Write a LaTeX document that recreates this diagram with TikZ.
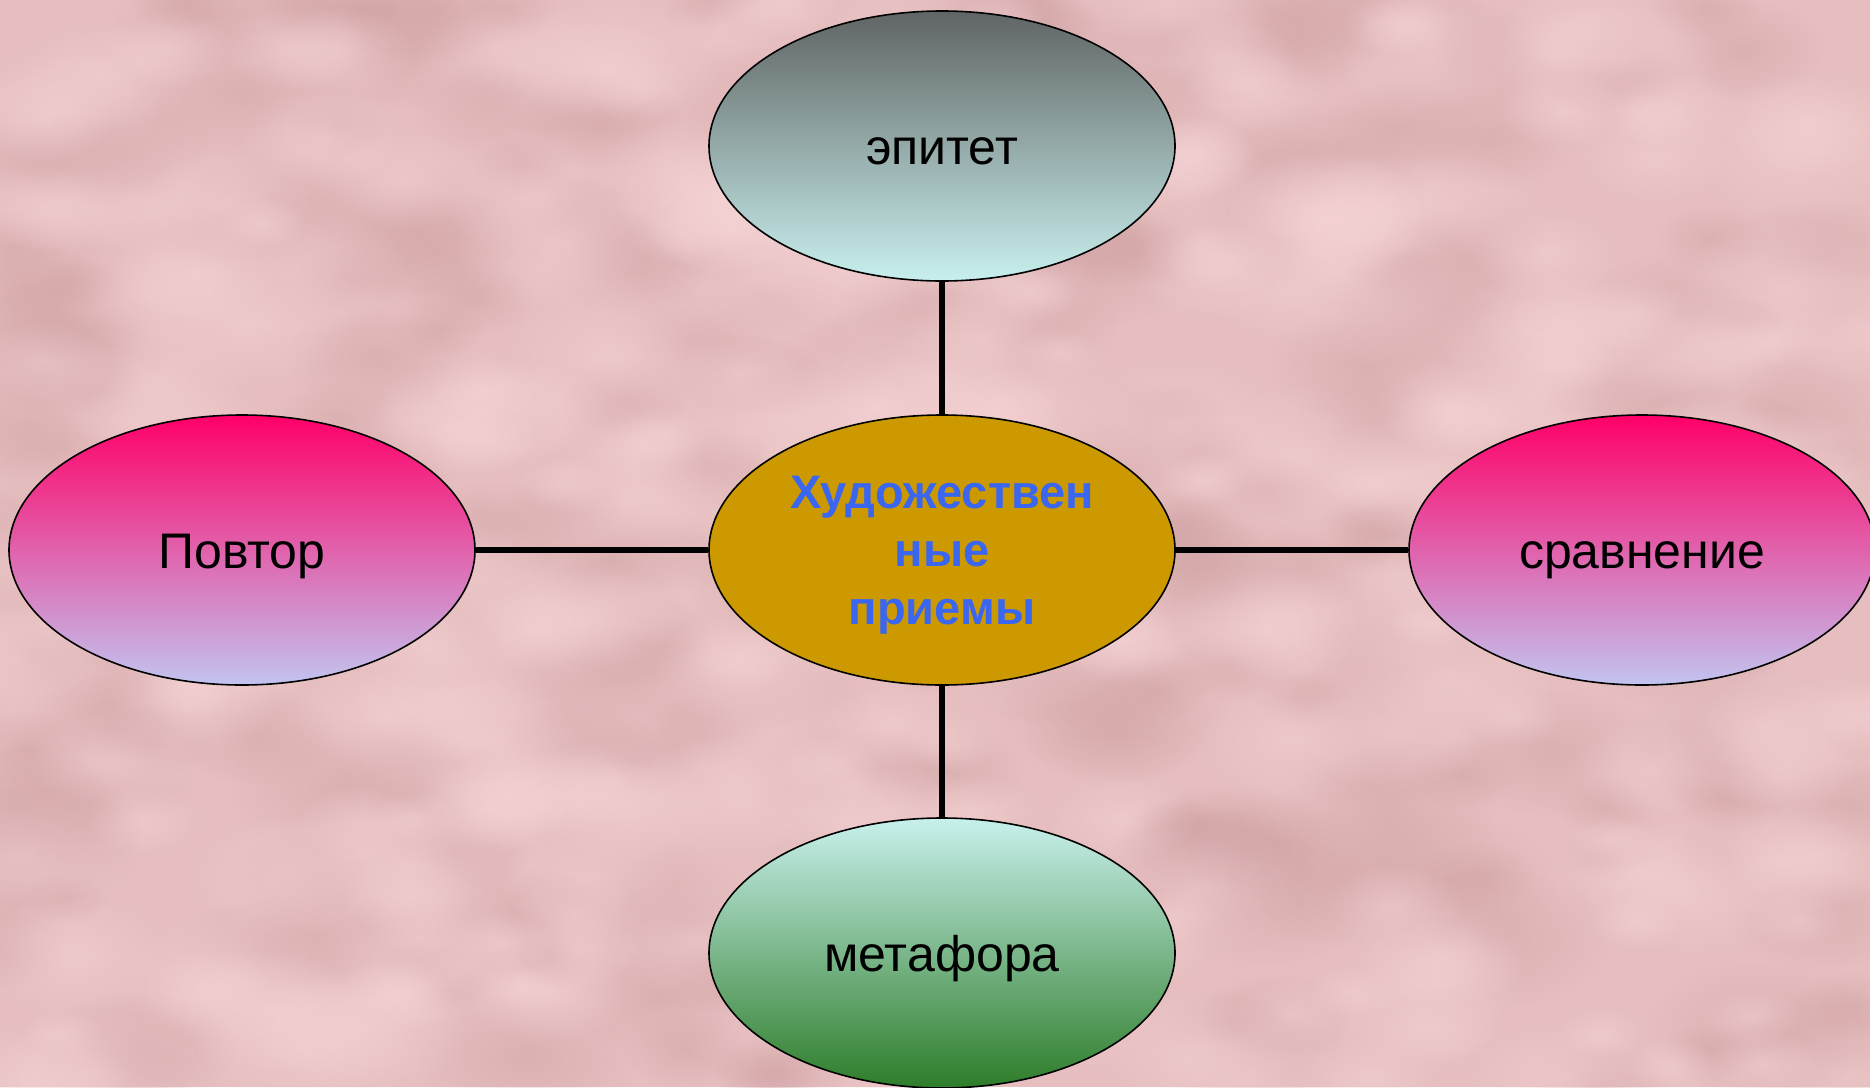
\documentclass[tikz,border=0pt]{standalone}
\usepackage{fontspec}
\setmainfont{Liberation Sans}
\usetikzlibrary{shapes.geometric,fadings}
\definecolor{bgpink}{HTML}{E6BEBF}
\definecolor{bgdark}{HTML}{CFA0A2}
\definecolor{bglight}{HTML}{F6D4D6}
\definecolor{ctrfill}{HTML}{CC9900}
\definecolor{ctrtext}{HTML}{3A66F0}
\definecolor{grayTop}{HTML}{606464}
\definecolor{grayBot}{HTML}{C8F0EE}
\definecolor{pinkTop}{HTML}{FF0068}
\definecolor{pinkBot}{HTML}{C2C4F0}
\definecolor{greenTop}{HTML}{C8F0EC}
\definecolor{greenBot}{HTML}{2E7D2A}
\tikzfading[name=softblob, inner color=transparent!0, outer color=transparent!100]
\tikzset{
  oval/.style={ellipse, draw=black, line width=1.6pt, minimum width=466pt, minimum height=270pt, inner sep=0pt,
    font=\fontsize{50}{58}\selectfont, text=black, text height=36pt, text depth=0pt},
  grayoval/.style={oval, top color=grayTop, bottom color=grayBot},
  pinkoval/.style={oval, top color=pinkTop, bottom color=pinkBot},
  greenoval/.style={oval, top color=greenTop, bottom color=greenBot},
  link/.style={line width=5.5pt, black}
}
\begin{document}
\begin{tikzpicture}[x=1pt,y=-1pt]
\useasboundingbox (0,0) rectangle (1870,1087);
\fill[bgpink] (0,0) rectangle (1870,1087);
\begin{scope}
\clip (0,0) rectangle (1870,1087);
\pgfmathsetseed{11}
\foreach \i in {1,...,260}{
  \pgfmathsetmacro\xx{rnd*1870}
  \pgfmathsetmacro\yy{rnd*1087}
  \pgfmathsetmacro\rr{40+rnd*80}
  \fill[bgdark, fill opacity=0.45, path fading=softblob] (\xx,\yy) ellipse ({\rr} and {\rr*0.6});
}
\foreach \i in {1,...,260}{
  \pgfmathsetmacro\xx{rnd*1870}
  \pgfmathsetmacro\yy{rnd*1087}
  \pgfmathsetmacro\rr{40+rnd*80}
  \fill[bglight, fill opacity=0.5, path fading=softblob] (\xx,\yy) ellipse ({\rr} and {\rr*0.6});
}
\end{scope}
\node[oval, fill=ctrfill, text=ctrtext, font=\bfseries\fontsize{47}{58}\selectfont, align=center, text height=149pt, text depth=0pt] (center) at (942,550) {Художествен\\ные\\приемы};
\node[grayoval] (epitet) at (942,146) {эпитет};
\node[pinkoval] (povtor) at (242,550) {Повтор};
\node[pinkoval] (sravn) at (1642,550) {сравнение};
\node[greenoval] (metafora) at (942,953) {метафора};
\draw[link] (center) -- (epitet);
\draw[link] (center) -- (povtor);
\draw[link] (center) -- (sravn);
\draw[link] (center) -- (metafora);
\end{tikzpicture}
\end{document}
